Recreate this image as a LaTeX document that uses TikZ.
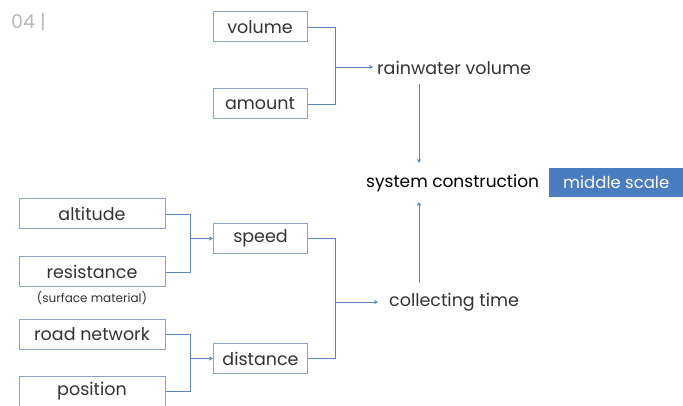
\documentclass[tikz,border=0pt]{standalone}
\usepackage{fontspec}
\setmainfont{Poppins}
\usetikzlibrary{arrows.meta}
\definecolor{linkblue}{HTML}{5B86C0}
\definecolor{boxedge}{HTML}{8AA4C8}
\definecolor{tagblue}{HTML}{4A7CC0}
\definecolor{txt}{HTML}{333333}
\tikzset{
  x=1pt, y=-1pt,
  factor/.style={draw=boxedge, line width=1pt, minimum height=30pt, inner sep=0pt,
    text=txt, font=\fontsize{17.5}{20}\selectfont},
  wide/.style={factor, minimum width=146pt},
  narrow/.style={factor, minimum width=94pt},
  label/.style={text=txt, inner sep=0pt, font=\fontsize{17.5}{20}\selectfont},
  link/.style={draw=linkblue, line width=0.9pt},
  arr/.style={link, -{Stealth[length=4pt,width=4pt]}}
}
\begin{document}
\begin{tikzpicture}
\useasboundingbox (0,0) rectangle (683,406);
\fill[white] (0,0) rectangle (683,406);

\node[text=gray!55, inner sep=0pt, anchor=west, font=\fontsize{19}{22}\selectfont] (page) at (11,22) {04 |};

% inputs for the rainwater volume
\node[narrow] (volume) at (260,27) {volume};
\node[narrow] (amount) at (260,104) {amount};
\coordinate (jv) at (335,67);
\coordinate (rt) at (373,67);
\node[label, anchor=west] (rain) at (377,68) {rainwater volume};
\draw[link] (volume.east) -| (jv);
\draw[link] (amount.east) -| (jv);
\draw[arr] (jv) -- (rt);

% central result
\node[label, anchor=west, font=\fontsize{17}{20}\selectfont, text=black] (sys) at (366,183) {system construction};
\node[fill=tagblue, text=white, inner sep=0pt, minimum height=29pt, minimum width=134pt,
  font=\fontsize{16.5}{20}\selectfont, anchor=west] (scale) at (549,182.5) {middle scale};

% inputs for speed
\node[wide] (alt) at (92,214) {altitude};
\node[wide] (res) at (92,272) {resistance};
\node[label, anchor=north, font=\fontsize{12}{14}\selectfont] (surf) at (92,291) {(surface material)};
\node[narrow] (speed) at (260.5,238.5) {speed};
\coordinate (js) at (190,238.5);
\draw[link] (alt.east) -| (js);
\draw[link] (res.east) -| (js);
\draw[arr] (js) -- (speed.west);

% inputs for distance
\node[wide] (road) at (92,334.5) {road network};
\node[wide] (pos) at (92,391) {position};
\node[narrow] (dist) at (260.5,358.5) {distance};
\coordinate (jd) at (190,358.5);
\draw[link] (road.east) -| (jd);
\draw[link] (pos.east) -| (jd);
\draw[arr] (jd) -- (dist.west);

% collecting time
\coordinate (jc) at (335,302);
\coordinate (ct) at (378,302);
\node[label, anchor=west] (coll) at (389,302) {collecting time};
\draw[link] (speed.east) -| (jc);
\draw[link] (dist.east) -| (jc);
\draw[arr] (jc) -- (ct);

% both results feed the system construction
\draw[arr] (419,84) -- (419,163);
\draw[arr] (419,283) -- (419,202);
\end{tikzpicture}
\end{document}
